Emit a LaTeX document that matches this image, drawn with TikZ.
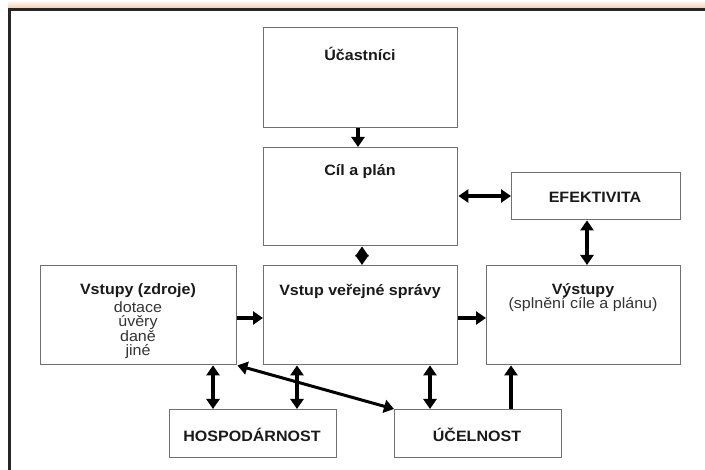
\documentclass[tikz,border=0pt]{standalone}
\usepackage{fontspec}
\setmainfont{Liberation Sans}[FakeStretch=1.07]
\usetikzlibrary{arrows.meta}
\definecolor{boxline}{HTML}{707070}
\definecolor{frameline}{HTML}{262626}
\definecolor{peach}{HTML}{F6C9A2}
\definecolor{txt}{HTML}{1A1A1A}
\definecolor{txtreg}{HTML}{333333}
\begin{document}
\begin{tikzpicture}[x=1pt,y=-1pt,
  box/.style={draw=boxline, line width=1.4pt, fill=white, rectangle, anchor=north west, inner sep=0pt},
  lbl/.style={font=\fontsize{15}{14.5}\selectfont\bfseries, text=txt, align=center, inner sep=0pt},
  sub/.style={font=\fontsize{15}{14.5}\selectfont, text=txtreg, align=center, inner sep=0pt},
  arr/.style={line width=3.4pt, draw=black, -{Triangle[length=10pt,width=13pt]}},
  darr/.style={line width=3.4pt, draw=black, {Triangle[length=10pt,width=13pt]}-{Triangle[length=10pt,width=13pt]}}]
\useasboundingbox (0,0) rectangle (705,470);
\fill[white] (0,0) rectangle (705,470);
% frame
\shade[top color=white, bottom color=peach] (8,0) rectangle (705,9);
\draw[frameline, line width=3pt] (9,472) -- (9,10) -- (707,10);
% boxes
\node[box, minimum width=194pt, minimum height=100pt] (ucast) at (263,27) {};
\node[box, minimum width=194pt, minimum height=98pt] (cil) at (263,147) {};
\node[box, minimum width=169pt, minimum height=47pt] (efekt) at (511,172) {};
\node[box, minimum width=196pt, minimum height=99pt] (vstupy) at (40,265) {};
\node[box, minimum width=194pt, minimum height=99pt] (vstup) at (263,265) {};
\node[box, minimum width=194pt, minimum height=99pt] (vystupy) at (486,265) {};
\node[box, minimum width=167pt, minimum height=48pt] (hosp) at (169,409) {};
\node[box, minimum width=167pt, minimum height=48pt] (ucel) at (394,409) {};
% texts
\node[lbl] (ucastT) at (360,54) {Účastníci};
\node[lbl] (cilT) at (360,172) {Cíl a plán};
\node[lbl] (efektT) at (595,197) {EFEKTIVITA};
\node[lbl] (vstupyT) at (138,291) {Vstupy (zdroje)};
\node[sub, anchor=north] (vstupyS) at (138,301) {dotace\\úvěry\\daně\\jiné};
\node[lbl] (vstupT) at (360,291) {Vstup veřejné správy};
\node[lbl] (vystupyT) at (583,291) {Výstupy};
\node[sub] (vystupyS) at (583,305) {(splnění cíle a plánu)};
\node[lbl] (hospT) at (252,435) {HOSPODÁRNOST};
\node[lbl] (ucelT) at (477,435) {ÚČELNOST};
% connectors
\draw[arr] (ucast.south -| 358,0) -- (cil.north -| 358,0);
\draw[darr] (cil.south -| 362,0) -- (vstup.north -| 362,0);
\draw[darr] (cil.east |- 0,196) -- (efekt.west |- 0,196);
\draw[darr] (efekt.south -| 587,0) -- (vystupy.north -| 587,0);
\draw[arr] (vstupy.east |- 0,318) -- (vstup.west |- 0,318);
\draw[arr] (vstup.east |- 0,318) -- (vystupy.west |- 0,318);
\draw[darr] (vstupy.south -| 213,0) -- (hosp.north -| 213,0);
\draw[darr] (vstup.south -| 297,0) -- (hosp.north -| 297,0);
\draw[darr] (vstup.south -| 430,0) -- (ucel.north -| 430,0);
\draw[arr] (ucel.north -| 511,0) -- (vystupy.south -| 511,0);
\draw[darr, line width=3pt] (vstupy.south east) -- (ucel.north west);
\end{tikzpicture}
\end{document}
